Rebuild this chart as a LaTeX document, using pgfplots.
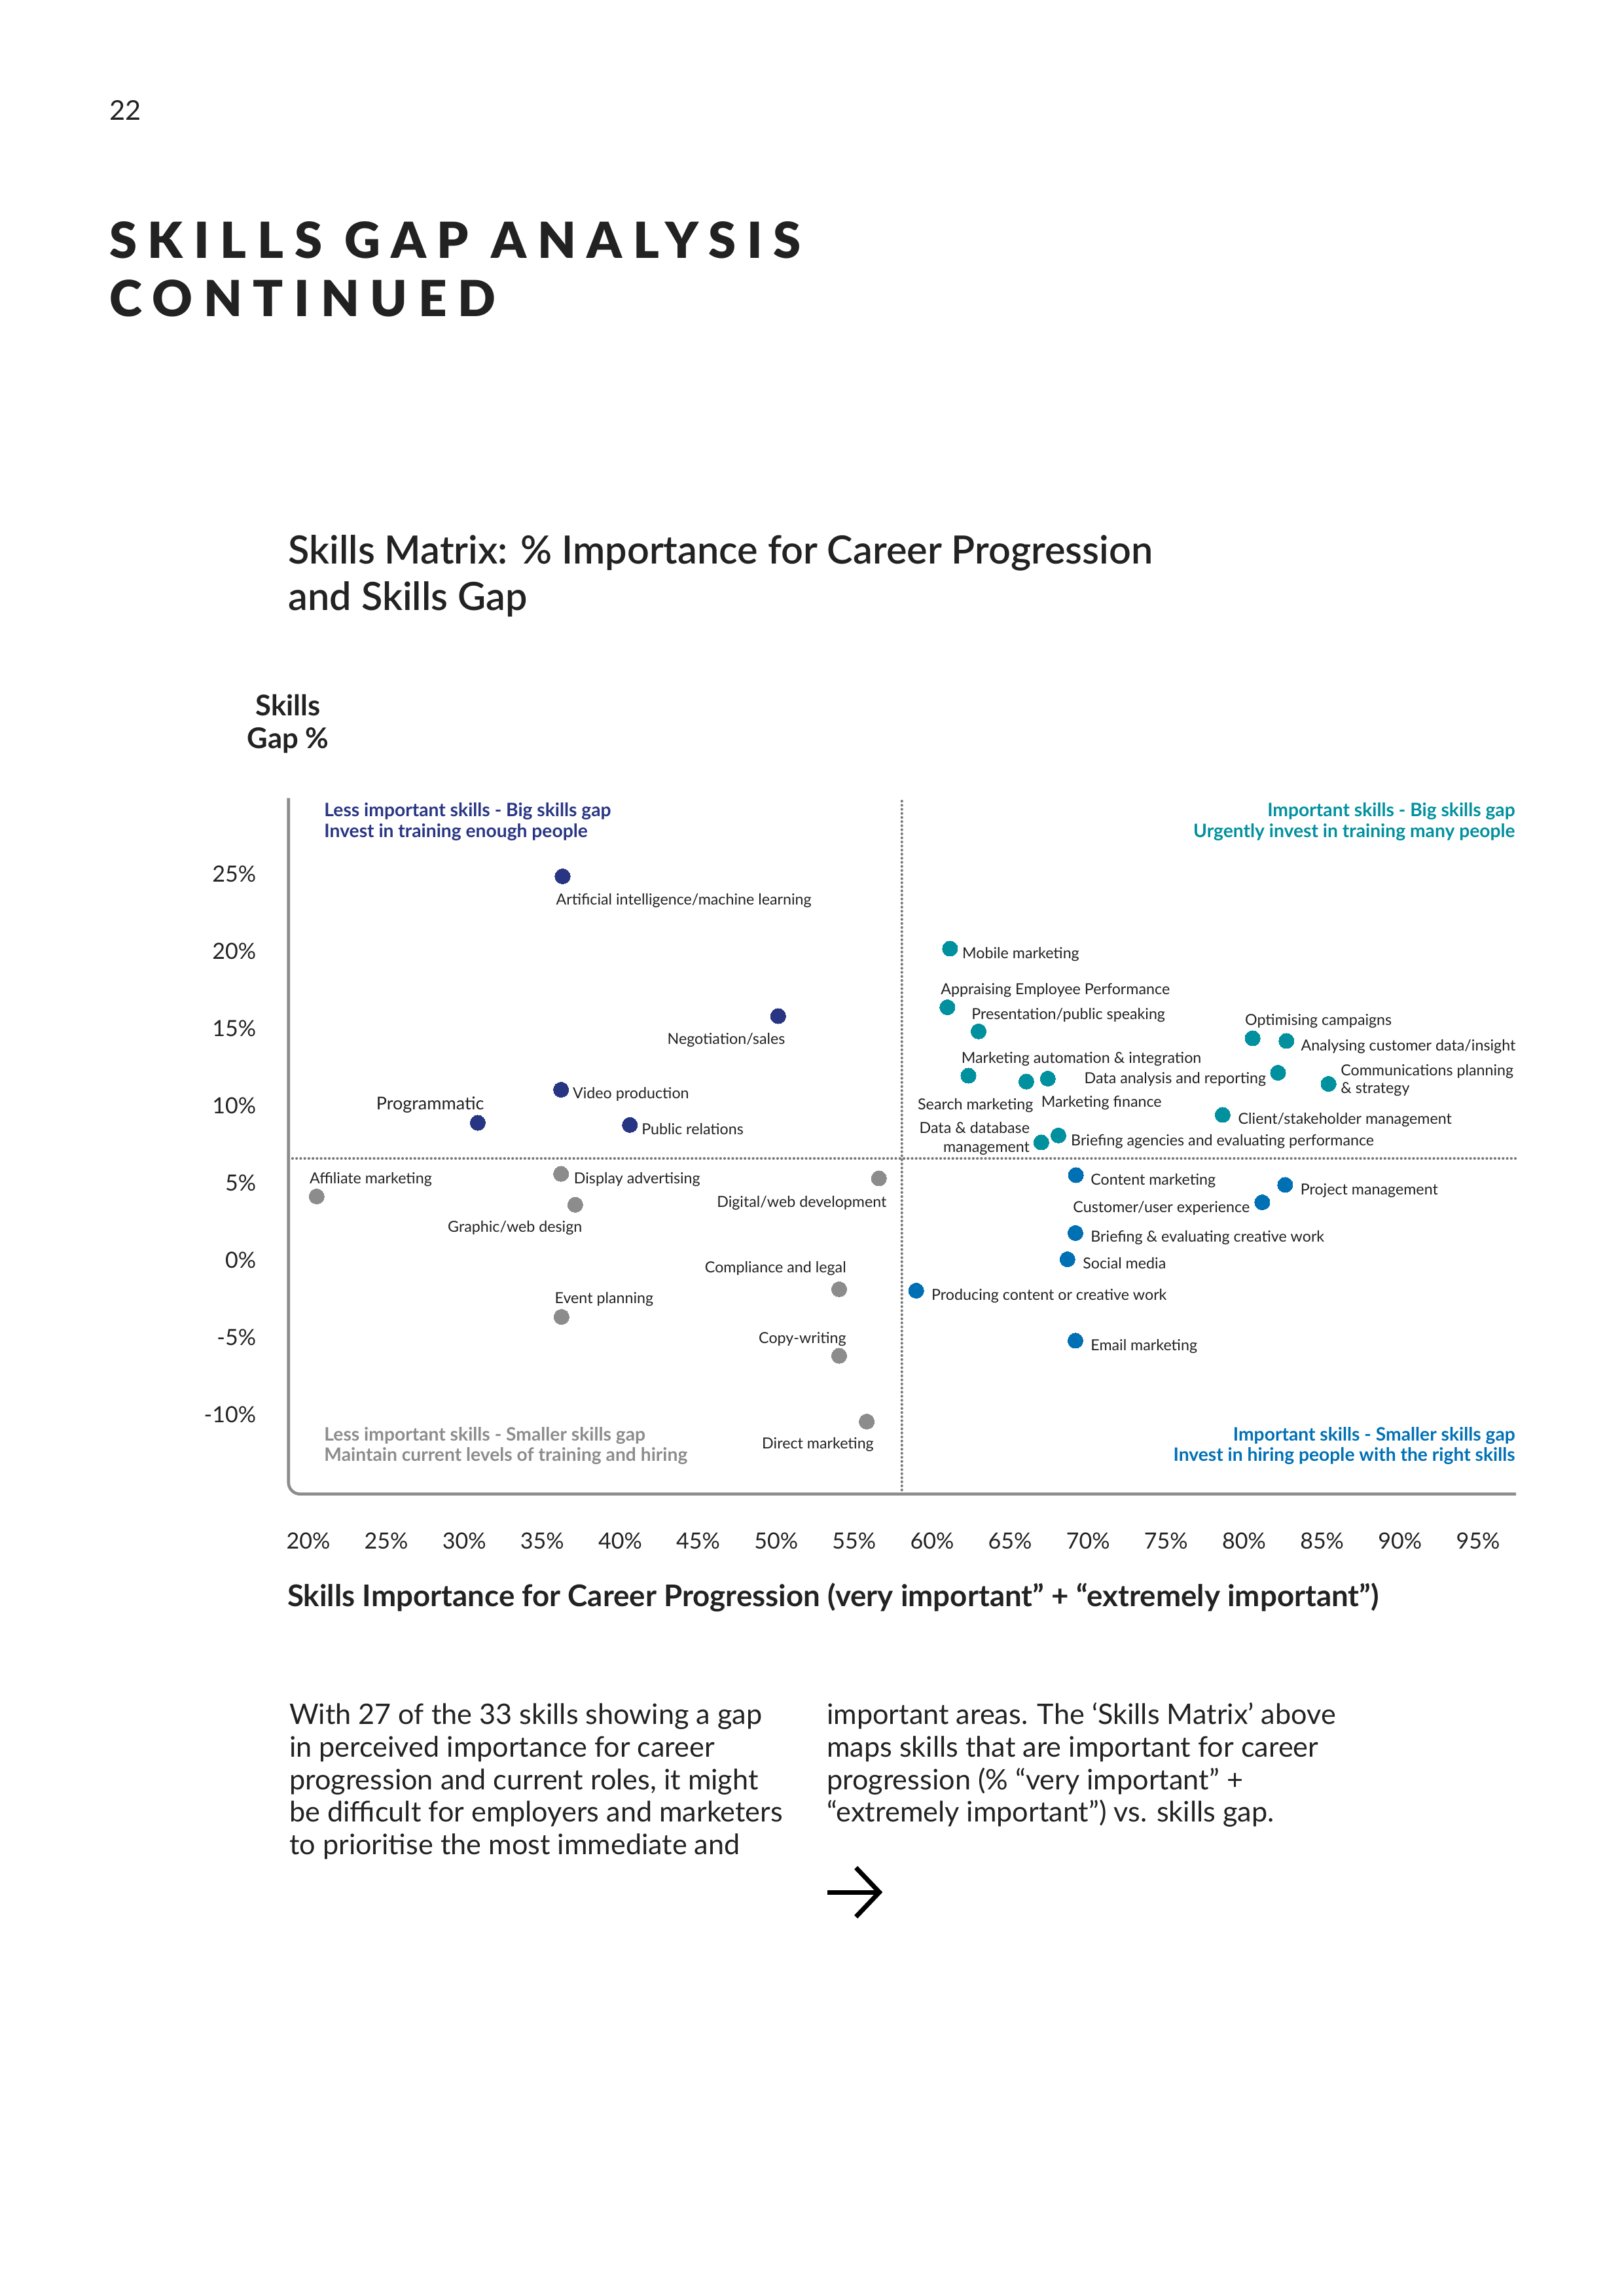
\documentclass[border=0pt]{standalone}
\usepackage{fontspec}
\setmainfont{Lato}
\newfontfamily\headfont{Lato Black}[LetterSpace=22]
\newfontfamily\semifont{Lato Semibold}
\usepackage{pgfplots}
\pgfplotsset{compat=1.18}
\definecolor{cNavy}{HTML}{283583}
\definecolor{cTeal}{HTML}{00909E}
\definecolor{cBlue}{HTML}{0070B5}
\definecolor{cGray}{HTML}{8C8C8C}
\definecolor{cDot}{HTML}{7A7A7A}
\definecolor{cText}{HTML}{222222}
\newcommand\lab{\fontsize{5.6}{6.7}\selectfont}
\newcommand\qlab{\fontsize{6.8}{8}\selectfont\bfseries}
\newcommand\body{\fontsize{10.4}{12.4}\selectfont}
\begin{document}
\begin{tikzpicture}
\path[use as bounding box] (0,0) rectangle (209.97mm,-297mm);
\begin{axis}[
  at={(37.314mm,-193.26mm)}, anchor=south west,
  scale only axis, width=158.77mm, height=90.03mm,
  xmin=18.732, xmax=97.44, ymin=-15.154, ymax=29.92,
  axis x line=bottom, axis y line=left,
  axis line style={draw=none},
  major tick length=0pt,
  xtick={20,25,30,35,40,45,50,55,60,65,70,75,80,85,90,95},
  xticklabels={20\%,25\%,30\%,35\%,40\%,45\%,50\%,55\%,60\%,65\%,70\%,75\%,80\%,85\%,90\%,95\%},
  ytick={-10,-5,0,5,10,15,20,25},
  yticklabels={-10\%,-5\%,0\%,5\%,10\%,15\%,20\%,25\%},
  /pgf/number format/assume math mode=true,
  tick label style={font=\fontsize{8.2}{9}\selectfont, text=cText},
  xticklabel style={anchor=center, yshift=-6.06mm},
  yticklabel style={anchor=east, inner sep=0pt, xshift=-4.13mm},
  clip=false,
]
% quadrant dividers
\addplot[cDot, line width=1pt, dash pattern=on 0pt off 1.5pt, line cap=round] coordinates {(58.06,-15.154) (58.06,29.92)};
\addplot[cDot, line width=1pt, dash pattern=on 0pt off 1.5pt, line cap=round] coordinates {(18.732,6.58) (97.44,6.58)};
% axis lines
\draw[cGray, line width=1.1pt, rounded corners=1.5mm] (rel axis cs:0,1) -- (rel axis cs:0,0) -- (rel axis cs:1,0);
% less important, big gap
\addplot[only marks, mark=*, mark size=0.98mm, mark options={fill=cNavy, draw=cNavy, line width=0pt}] coordinates {
(36.31,24.85) (50.13,15.80) (36.21,11.03) (30.87,8.89) (40.62,8.75)};
% less important, smaller gap
\addplot[only marks, mark=*, mark size=0.98mm, mark options={fill=cGray, draw=cGray, line width=0pt}] coordinates {
(36.21,5.58) (20.54,4.12) (37.12,3.58) (56.59,5.29) (54.04,-1.89) (36.24,-3.68) (54.04,-6.20) (55.81,-10.46)};
% important, big gap
\addplot[only marks, mark=*, mark size=0.98mm, mark options={fill=cTeal, draw=cTeal, line width=0pt}] coordinates {
(61.15,20.17) (60.98,16.37) (62.98,14.81) (62.33,11.94) (66.04,11.56) (67.42,11.75) (82.18,12.13)
(80.55,14.36) (82.72,14.19) (85.42,11.41) (78.63,9.40) (67.00,7.62) (68.10,8.07)};
% important, smaller gap
\addplot[only marks, mark=*, mark size=0.98mm, mark options={fill=cBlue, draw=cBlue, line width=0pt}] coordinates {
(69.22,5.50) (82.64,4.87) (81.17,3.74) (69.19,1.75) (68.68,0.05) (58.98,-1.98) (69.19,-5.22)};
\end{axis}
\begin{scope}[x=0.189413mm, y=-0.189413mm, every node/.style={inner sep=0pt, text=cText}]
% page header
\node[anchor=base west, font=\fontsize{10}{12}\selectfont] at (74.4,82.0) {22};
\node[anchor=base west, font=\fontsize{18.3}{21}\headfont] at (74.4,176.2) {SKILLS GAP ANALYSIS};
\node[anchor=base west, font=\fontsize{18.3}{21}\headfont] at (74.4,216.1) {CONTINUED};
% chart title
\node[anchor=base west, font=\fontsize{14.3}{17}\semifont] at (196.6,385.3) {Skills Matrix: \% Importance for Career Progression};
\node[anchor=base west, font=\fontsize{14.3}{17}\semifont] at (196.6,416.6) {and Skills Gap};
% y axis title
\node[anchor=base, font=\fontsize{10.5}{12}\selectfont\bfseries] at (196.7,488.9) {Skills};
\node[anchor=base, font=\fontsize{10.5}{12}\selectfont\bfseries] at (196.7,511.0) {Gap \%};
% x axis title
\node[anchor=base west, font=\fontsize{11}{13}\selectfont\bfseries] at (195.9,1097.1) {Skills Importance for Career Progression (very important” + “extremely important”)};
% quadrant captions
\node[anchor=mid west, font=\qlab, text=cNavy] at (221.1,553.0) {Less important skills - Big skills gap};
\node[anchor=mid west, font=\qlab, text=cNavy] at (221.1,567.1) {Invest in training enough people};
\node[anchor=mid east, font=\qlab, text=cTeal] at (1035.0,553.0) {Important skills - Big skills gap};
\node[anchor=mid east, font=\qlab, text=cTeal] at (1035.0,567.1) {Urgently invest in training many people};
\node[anchor=mid west, font=\qlab, text=cGray] at (221.1,979.2) {Less important skills - Smaller skills gap};
\node[anchor=mid west, font=\qlab, text=cGray] at (221.1,993.2) {Maintain current levels of training and hiring};
\node[anchor=mid east, font=\qlab, text=cBlue] at (1035.0,979.2) {Important skills - Smaller skills gap};
\node[anchor=mid east, font=\qlab, text=cBlue] at (1035.0,993.2) {Invest in hiring people with the right skills};
% point labels (west anchored)
\node[anchor=mid west, font=\lab] at (379.4,613.1) {Artificial intelligence/machine learning};
\node[anchor=mid west, font=\lab] at (390.8,745.6) {Video production};
\node[anchor=mid west, font=\lab] at (437.8,770.2) {Public relations};
\node[anchor=mid west, font=\lab] at (211.1,803.5) {Affiliate marketing};
\node[anchor=mid west, font=\lab] at (391.6,803.7) {Display advertising};
\node[anchor=mid west, font=\lab] at (378.5,885.6) {Event planning};
\node[anchor=mid west, font=\lab] at (656.8,650.0) {Mobile marketing};
\node[anchor=mid west, font=\lab] at (642.1,674.7) {Appraising Employee Performance};
\node[anchor=mid west, font=\lab] at (663.1,691.5) {Presentation/public speaking};
\node[anchor=mid west, font=\lab] at (849.9,695.7) {Optimising campaigns};
\node[anchor=mid east, font=\lab] at (1035.3,713.1) {Analysing customer data/insight};
\node[anchor=mid west, font=\lab] at (656.2,721.3) {Marketing automation \& integration};
\node[anchor=mid east, font=\lab] at (864.9,735.2) {Data analysis and reporting};
\node[anchor=mid west, font=\lab] at (915.2,729.8) {Communications planning};
\node[anchor=mid west, font=\lab] at (915.2,742.2) {\& strategy};
\node[anchor=mid east, font=\lab] at (705.9,753.2) {Search marketing};
\node[anchor=mid west, font=\lab] at (710.7,751.2) {Marketing finance};
\node[anchor=mid west, font=\lab] at (845.2,762.8) {Client/stakeholder management};
\node[anchor=mid east, font=\lab] at (703.5,769.4) {Data \& database};
\node[anchor=mid east, font=\lab] at (703.5,782.1) {management};
\node[anchor=mid west, font=\lab] at (731.0,777.8) {Briefing agencies and evaluating performance};
\node[anchor=mid west, font=\lab] at (744.5,804.5) {Content marketing};
\node[anchor=mid west, font=\lab] at (887.7,811.1) {Project management};
\node[anchor=mid east, font=\lab] at (853.8,823.3) {Customer/user experience};
\node[anchor=mid west, font=\lab] at (744.5,843.6) {Briefing \& evaluating creative work};
\node[anchor=mid west, font=\lab] at (739.1,861.6) {Social media};
\node[anchor=mid west, font=\lab] at (635.8,883.4) {Producing content or creative work};
\node[anchor=mid west, font=\lab] at (744.5,917.5) {Email marketing};
% point labels (east anchored)
\node[anchor=mid east, font=\lab] at (536.5,708.3) {Negotiation/sales};
\node[anchor=mid east, font=\fontsize{6.5}{7.5}\selectfont] at (330.9,753.2) {Programmatic};
\node[anchor=mid east, font=\lab] at (605.8,819.7) {Digital/web development};
\node[anchor=mid east, font=\lab] at (397.9,836.6) {Graphic/web design};
\node[anchor=mid east, font=\lab] at (578.2,864.4) {Compliance and legal};
\node[anchor=mid east, font=\lab] at (578.2,912.9) {Copy-writing};
\node[anchor=mid east, font=\lab] at (597.0,984.8) {Direct marketing};
% body text
\node[anchor=base west, font=\body] at (197.3,1177.5) {With 27 of the 33 skills showing a gap};
\node[anchor=base west, font=\body] at (197.3,1199.8) {in perceived importance for career};
\node[anchor=base west, font=\body] at (197.3,1222.1) {progression and current roles, it might};
\node[anchor=base west, font=\body] at (197.3,1244.4) {be difficult for employers and marketers};
\node[anchor=base west, font=\body] at (197.3,1266.7) {to prioritise the most immediate and};
\node[anchor=base west, font=\body] at (564.3,1177.5) {important areas. The ‘Skills Matrix’ above};
\node[anchor=base west, font=\body] at (564.3,1199.8) {maps skills that are important for career};
\node[anchor=base west, font=\body] at (564.3,1222.1) {progression (\% “very important” +};
\node[anchor=base west, font=\body] at (564.3,1244.4) {“extremely important”) vs. skills gap.};
% arrow
\draw[line width=0.6mm, black] (565.2,1292.3) -- (599.5,1292.3);
\draw[line width=0.6mm, black] (584.5,1275.5) -- (600.5,1292.3) -- (584.5,1309.1);
\end{scope}
\end{tikzpicture}
\end{document}
